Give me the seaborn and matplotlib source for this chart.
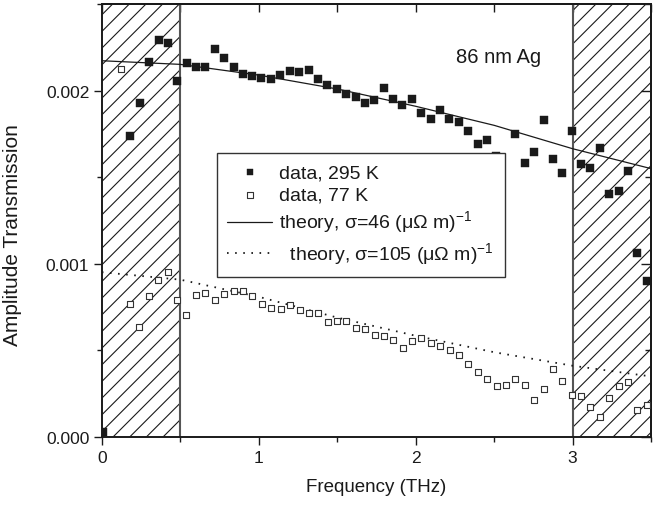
import numpy as np
import pandas as pd
import matplotlib
matplotlib.use("Agg")
import matplotlib.pyplot as plt
from matplotlib.ticker import MultipleLocator, FixedLocator
import seaborn as sns

# ---------------- data ----------------
freq_295 = [0.005, 0.178, 0.242, 0.299, 0.363, 0.420, 0.482, 0.541, 0.601, 0.660,
            0.720, 0.781, 0.841, 0.898, 0.960, 1.017, 1.076, 1.138, 1.197, 1.259,
            1.318, 1.378, 1.438, 1.497, 1.558, 1.618, 1.677, 1.737, 1.796, 1.858,
            1.915, 1.975, 2.036, 2.096, 2.157, 2.215, 2.276, 2.335, 2.395, 2.454,
            2.514, 2.635, 2.694, 2.754, 2.815, 2.873, 2.934, 2.994, 3.055, 3.113,
            3.174, 3.234, 3.295, 3.352, 3.412, 3.471]
amp_295 = [0.03, 1.740, 1.927, 2.164, 2.291, 2.277, 2.056, 2.158, 2.135, 2.135,
           2.243, 2.187, 2.135, 2.099, 2.083, 2.075, 2.065, 2.090, 2.112, 2.108,
           2.117, 2.065, 2.031, 2.008, 1.981, 1.962, 1.927, 1.944, 2.017, 1.954,
           1.915, 1.950, 1.873, 1.836, 1.886, 1.838, 1.817, 1.765, 1.690, 1.713,
           1.624, 1.750, 1.584, 1.644, 1.829, 1.603, 1.524, 1.767, 1.578, 1.555,
           1.671, 1.401, 1.418, 1.539, 1.064, 0.902]  # x 1e-3

freq_77 = [0.121, 0.178, 0.240, 0.299, 0.361, 0.420, 0.482, 0.539, 0.601, 0.660,
           0.720, 0.779, 0.841, 0.900, 0.960, 1.019, 1.078, 1.141, 1.202, 1.261,
           1.320, 1.380, 1.439, 1.499, 1.558, 1.618, 1.677, 1.739, 1.798, 1.858,
           1.917, 1.976, 2.036, 2.098, 2.157, 2.217, 2.276, 2.336, 2.397, 2.457,
           2.516, 2.575, 2.635, 2.694, 2.756, 2.815, 2.875, 2.934, 2.994, 3.053,
           3.113, 3.174, 3.234, 3.293, 3.352, 3.412, 3.473]
amp_77 = [2.127, 0.767, 0.638, 0.813, 0.908, 0.954, 0.790, 0.707, 0.821, 0.831,
          0.790, 0.825, 0.844, 0.846, 0.815, 0.771, 0.746, 0.738, 0.763, 0.736,
          0.717, 0.715, 0.667, 0.671, 0.671, 0.628, 0.624, 0.590, 0.586, 0.561,
          0.513, 0.557, 0.574, 0.543, 0.524, 0.503, 0.474, 0.422, 0.376, 0.335,
          0.295, 0.299, 0.337, 0.301, 0.212, 0.276, 0.393, 0.322, 0.241, 0.235,
          0.172, 0.117, 0.227, 0.297, 0.316, 0.156, 0.183]  # x 1e-3

theory_freq = [0.0, 0.5, 1.0, 1.5, 2.0, 2.5, 3.0, 3.5]
theory_46 = [2.173, 2.152, 2.090, 2.010, 1.910, 1.800, 1.665, 1.550]   # x 1e-3
theory_105 = [0.952, 0.909, 0.810, 0.690, 0.585, 0.490, 0.412, 0.350]  # x 1e-3

hatched_bands = [(0.0, 0.5), (3.0, 3.5)]
x_ticks = [0, 1, 2, 3]
y_ticks = [0.0, 0.001, 0.002]
y_tick_labels = ["0.000", "0.001", "0.002"]

label_295 = "data, 295 K"
label_77 = "data, 77 K"
label_46 = r"theory, σ=46 (μΩ m)$^{\mathregular{-1}}$"
label_105 = r"  theory, σ=105 (μΩ m)$^{\mathregular{-1}}$"

# ---------------- frames ----------------
df295 = pd.DataFrame({"f": freq_295, "a": np.array(amp_295) * 1e-3})
df77 = pd.DataFrame({"f": freq_77, "a": np.array(amp_77) * 1e-3})
dft = pd.DataFrame({"f": theory_freq,
                    "t46": np.array(theory_46) * 1e-3,
                    "t105": np.array(theory_105) * 1e-3})

sns.set_theme(style="ticks")
plt.rcParams["font.family"] = ["Liberation Sans", "DejaVu Sans"]
plt.rcParams["mathtext.fontset"] = "custom"
plt.rcParams["mathtext.rm"] = "Liberation Sans"
plt.rcParams["hatch.linewidth"] = 0.8
ink = "#1a1a1a"

fig = plt.figure(figsize=(6.57, 5.10), dpi=100)
ax = fig.add_axes([0.155, 0.141, 0.836, 0.849])

for (a, b) in hatched_bands:
    ax.axvspan(a, b, fill=False, hatch="//", edgecolor=ink, linewidth=0, zorder=1)
ax.axvline(0.5, color="#555555", lw=1.5, zorder=1.5)
ax.axvline(3.0, color="#555555", lw=1.5, zorder=1.5)

sns.scatterplot(data=df295, x="f", y="a", ax=ax, marker="s", s=26,
                color=ink, edgecolor=ink, linewidth=0.3, label=label_295, zorder=3)
sns.scatterplot(data=df77, x="f", y="a", ax=ax, marker="s", s=24,
                facecolor="white", edgecolor="#333333", linewidth=0.8,
                label=label_77, zorder=3)
sns.lineplot(data=dft, x="f", y="t46", ax=ax, color=ink, lw=0.9,
             label=label_46, zorder=2)
sns.lineplot(data=dft, x="f", y="t105", ax=ax, color=ink, lw=1.3,
             dashes=False, label=label_105, zorder=2)
ax.lines[-1].set_dashes((0.9, 3.6))

ax.set_xlim(0, 3.5)
ax.set_ylim(0, 0.0025)
ax.xaxis.set_major_locator(FixedLocator(x_ticks))
ax.xaxis.set_minor_locator(MultipleLocator(0.5))
ax.yaxis.set_major_locator(FixedLocator(y_ticks))
ax.set_yticklabels(y_tick_labels)
ax.yaxis.set_minor_locator(MultipleLocator(0.0005))

ax.tick_params(axis="both", which="major", direction="out", length=6, width=1,
               color=ink, labelsize=12.5, labelcolor=ink, pad=3)
ax.tick_params(axis="both", which="minor", direction="out", length=3.5, width=1,
               color=ink)

for sp in ax.spines.values():
    sp.set_linewidth(1.4)
    sp.set_color(ink)

secx = ax.secondary_xaxis("top")
secx.xaxis.set_major_locator(FixedLocator(x_ticks))
secx.xaxis.set_minor_locator(MultipleLocator(0.5))
secx.tick_params(which="major", direction="in", length=6, width=1, color=ink, labeltop=False)
secx.tick_params(which="minor", direction="in", length=6, width=1, color=ink)
secx.spines["top"].set_linewidth(1.4)
secx.spines["top"].set_color(ink)

secy = ax.secondary_yaxis("right")
secy.yaxis.set_major_locator(FixedLocator(y_ticks))
secy.yaxis.set_minor_locator(MultipleLocator(0.0005))
secy.tick_params(which="major", direction="in", length=7, width=1, color=ink, labelright=False)
secy.tick_params(which="minor", direction="in", length=4, width=1, color=ink)
secy.spines["right"].set_linewidth(1.4)
secy.spines["right"].set_color(ink)

ax.set_xlabel("Frequency (THz)", fontsize=13.5, color=ink, labelpad=10)
ax.set_ylabel("Amplitude Transmission", fontsize=15, color=ink, labelpad=9)
ax.yaxis.set_label_coords(-0.145, 0.469)

ax.text(0.645, 0.88, "86 nm Ag", transform=ax.transAxes, fontsize=14.5,
        color=ink, ha="left", va="center")

leg = ax.legend(loc="upper left", bbox_to_anchor=(0.209, 0.656), fontsize=14,
                frameon=True, fancybox=False, shadow=False, framealpha=1,
                edgecolor="#333333", handlelength=2.3, handletextpad=0.37,
                labelspacing=0.25, borderpad=0.55, borderaxespad=0,
                markerscale=0.85)
leg.get_frame().set_linewidth(1.0)
leg.set_zorder(10)
for t in leg.get_texts():
    t.set_color(ink)

fig.savefig("out.png", dpi=100)
